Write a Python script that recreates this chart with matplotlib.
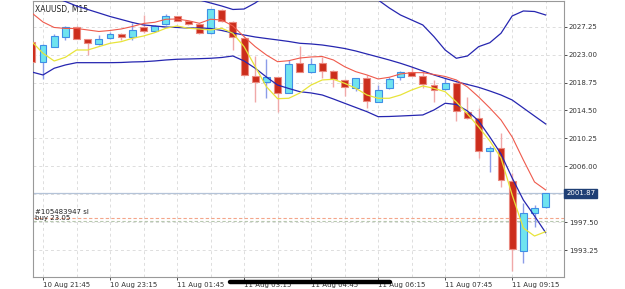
import numpy as np
import matplotlib
matplotlib.use("Agg")
import matplotlib.pyplot as plt
from matplotlib.patches import Rectangle
from matplotlib.lines import Line2D

# XAUUSD M15 candles, first one (index -1) is cut by the left edge
opens = [2024.97, 2021.83, 2024.21, 2025.73, 2027.25, 2025.33, 2024.66, 2025.48, 2026.09, 2025.73,
         2027.16, 2026.55, 2027.62, 2028.88, 2028.07, 2027.66, 2026.25, 2029.79, 2027.97, 2025.58,
         2019.74, 2018.78, 2019.55, 2017.20, 2021.68, 2020.31, 2021.68, 2020.50, 2019.14, 2017.87,
         2019.39, 2015.83, 2017.87, 2019.64, 2020.31, 2019.74, 2018.37, 2017.72, 2018.72, 2014.31,
         2013.30, 2008.33, 2008.74, 2003.80, 1993.10, 1998.84, 1999.75]
highs = [2025.22, 2024.61, 2026.14, 2027.36, 2027.31, 2025.38, 2025.99, 2026.44, 2026.29, 2027.86,
         2029.03, 2027.51, 2029.14, 2028.95, 2028.12, 2027.74, 2029.95, 2029.87, 2028.04, 2025.68,
         2022.79, 2022.33, 2019.59, 2022.18, 2024.31, 2022.48, 2022.68, 2020.66, 2019.29, 2019.44,
         2019.90, 2018.37, 2019.64, 2020.55, 2021.16, 2020.35, 2019.14, 2019.39, 2018.83, 2016.59,
         2014.83, 2009.09, 2011.11, 2004.93, 2000.36, 2000.10, 2001.87]
lows = [2021.72, 2019.29, 2024.16, 2025.23, 2025.30, 2022.94, 2024.46, 2025.38, 2025.23, 2025.23,
        2026.29, 2026.44, 2027.51, 2028.12, 2027.51, 2026.14, 2026.14, 2027.97, 2023.70, 2019.74,
        2015.83, 2016.40, 2014.26, 2017.16, 2020.35, 2020.20, 2019.44, 2018.11, 2016.70, 2017.51,
        2014.83, 2015.79, 2017.76, 2019.14, 2019.74, 2017.92, 2015.83, 2017.61, 2012.89, 2013.19,
        2007.21, 2005.08, 2002.89, 1990.06, 1991.23, 1996.80, 1999.60]
closes = [2021.88, 2024.46, 2025.83, 2027.16, 2025.33, 2024.72, 2025.38, 2026.14, 2025.68, 2026.75,
          2026.55, 2027.36, 2028.92, 2028.16, 2027.66, 2026.25, 2029.90, 2028.12, 2025.64, 2019.90,
          2018.88, 2019.55, 2017.20, 2021.53, 2020.40, 2021.57, 2020.55, 2019.29, 2018.11, 2019.39,
          2015.98, 2017.61, 2019.24, 2020.31, 2019.79, 2018.48, 2017.61, 2018.63, 2014.42, 2013.30,
          2008.33, 2008.74, 2003.91, 1993.36, 1998.84, 1999.60, 2001.87]

# moving averages and bollinger bands
ma_red = [2029.34, 2027.96, 2027.13, 2026.98, 2026.98, 2026.75, 2026.52, 2026.67, 2026.90, 2027.28,
          2027.74, 2027.92, 2028.38, 2028.42, 2028.16, 2027.77, 2028.38, 2028.27, 2027.36, 2025.73,
          2024.21, 2022.94, 2021.92, 2022.07, 2022.48, 2022.64, 2022.71, 2022.18, 2021.16, 2020.40,
          2019.90, 2019.29, 2019.55, 2020.05, 2020.25, 2020.25, 2019.97, 2019.67, 2019.14, 2018.07,
          2016.55, 2014.87, 2013.05, 2010.46, 2006.96, 2003.61, 2002.39]
ma_yellow = [2024.97, 2023.20, 2022.03, 2022.59, 2023.70, 2023.70, 2024.21, 2024.72, 2024.97, 2025.48,
             2025.83, 2026.34, 2027.01, 2027.36, 2027.01, 2026.90, 2026.75, 2027.01, 2026.25, 2024.21,
             2021.16, 2018.11, 2016.29, 2016.35, 2017.16, 2018.37, 2019.14, 2019.24, 2018.63, 2017.87,
             2016.85, 2016.35, 2016.35, 2016.85, 2017.61, 2018.22, 2017.87, 2017.35, 2015.79, 2013.96,
             2011.98, 2009.85, 2007.26, 2001.63, 1996.60, 1995.38, 1996.04]
bb_mid = [2032.84, 2032.23, 2031.70, 2031.09, 2030.40, 2029.87, 2029.34, 2028.80, 2028.35, 2027.89,
          2027.51, 2027.36, 2027.20, 2027.13, 2027.05, 2027.05, 2026.98, 2026.67, 2026.29, 2025.99,
          2025.68, 2025.45, 2025.23, 2025.00, 2024.72, 2024.62, 2024.46, 2024.21, 2023.93, 2023.55,
          2023.09, 2022.64, 2022.18, 2021.68, 2021.12, 2020.51, 2019.90, 2019.37, 2018.88, 2018.45,
          2018.02, 2017.46, 2016.85, 2016.09, 2014.87, 2013.65, 2012.44]
bb_low = [2020.35, 2019.90, 2020.92, 2021.42, 2021.77, 2021.77, 2021.77, 2021.77, 2021.80, 2021.88,
          2021.92, 2022.03, 2022.18, 2022.29, 2022.33, 2022.38, 2022.44, 2022.56, 2022.79, 2022.03,
          2020.92, 2019.59, 2018.37, 2017.84, 2017.35, 2017.16, 2016.85, 2016.24, 2015.59, 2014.95,
          2014.31, 2013.55, 2013.58, 2013.65, 2013.73, 2013.81, 2014.57, 2015.59, 2015.41, 2014.42,
          2012.89, 2010.46, 2007.87, 2004.22, 2000.87, 1998.43, 1995.89]
bb_up = [2045.32, 2044.56, 2042.43, 2040.75, 2039.08, 2038.01, 2036.95, 2035.88, 2034.82, 2033.90,
         2033.14, 2032.69, 2032.23, 2031.92, 2031.77, 2031.32, 2030.86, 2030.40, 2029.87, 2029.94,
         2030.86, 2032.08, 2032.08, 2032.15, 2032.08, 2032.08, 2032.08, 2032.17, 2032.23, 2032.15,
         2031.88, 2031.32, 2030.10, 2029.03, 2028.27, 2027.51, 2025.73, 2023.70, 2022.44, 2022.79,
         2024.21, 2024.81, 2026.25, 2028.88, 2029.64, 2029.56, 2029.03]

price_now = 2001.87
sl_level = 1998.08
buy_level = 1997.67

y_ticks = [1993.25, 1997.50, 2001.75, 2006.00, 2010.25, 2014.50, 2018.75, 2023.00, 2027.25]
x_labels = ["10 Aug 21:45", "10 Aug 23:15", "11 Aug 01:45", "11 Aug 03:15",
            "11 Aug 04:45", "11 Aug 06:15", "11 Aug 07:45", "11 Aug 09:15"]

x = np.arange(len(opens)) - 1

fig = plt.figure(figsize=(6.25, 2.89), dpi=100)
ax = fig.add_axes([33/625, 12/289, 531/625, 276/289])

ax.set_xlim(-0.895, 46.64)
ax.set_ylim(1989.14, 2031.16)

# grid
for v in y_ticks:
    ax.axhline(v, color="#dddddd", lw=0.7, ls=(0, (3, 3)), zorder=0)
for g in range(0, 46, 3):
    ax.axvline(g, color="#dddddd", lw=0.7, ls=(0, (3, 3)), zorder=0)

# candles
w = 0.62
for xi, o, h, l, c in zip(x, opens, highs, lows, closes):
    if c >= o:
        body, edge, wick = "#6fe3ef", "#3f8fe6", "#8c9ce8"
    else:
        body, edge, wick = "#cc2d1c", "#ea8a80", "#f0a8a8"
    ax.vlines(xi, l, h, color=wick, lw=1.0, zorder=2)
    bottom = min(o, c)
    hgt = max(abs(c - o), 0.08)
    ax.add_patch(Rectangle((xi - w/2, bottom), w, hgt, facecolor=body,
                           edgecolor=edge, lw=0.8, zorder=3))

# indicators
ax.plot(x, bb_up, color="#2626b0", lw=0.9, zorder=4)
ax.plot(x, bb_mid, color="#2626b0", lw=0.9, zorder=4)
ax.plot(x, bb_low, color="#2626b0", lw=0.9, zorder=4)
ax.plot(x, ma_red, color="#ef5a4c", lw=0.8, zorder=4)
ax.plot(x, ma_yellow, color="#e8e43a", lw=0.9, zorder=4)

# price / order lines
ax.axhline(price_now, color="#b4c3d8", lw=0.9, zorder=1)
ax.axhline(sl_level, color="#f4a58a", lw=0.8, ls=(0, (3, 2)), zorder=1)
ax.axhline(buy_level, color="#b8c8b0", lw=0.8, ls=(0, (3, 2)), zorder=1)
ax.text(0.003, sl_level + 0.55, "#105483947 sl", transform=ax.get_yaxis_transform(),
        fontsize=5, color="#222222", va="bottom", ha="left")
ax.text(0.003, sl_level - 0.35, "buy 23.05", transform=ax.get_yaxis_transform(),
        fontsize=5, color="#222222", va="bottom", ha="left")

ax.text(0.003, 0.985, "XAUUSD, M15", transform=ax.transAxes, fontsize=5.5,
        color="#222222", va="top", ha="left")

# axes styling
ax.yaxis.tick_right()
ax.set_yticks(y_ticks)
ax.set_yticklabels(["%.2f" % v if v != 2001.75 else "" for v in y_ticks])
ax.set_xticks(range(0, 43, 6))
ax.set_xticklabels(x_labels, ha="left")
ax.tick_params(axis="both", labelsize=5, colors="#333333", length=2, width=0.6, pad=1.5)
for s in ax.spines.values():
    s.set_color("#999999")
    s.set_linewidth(0.8)

ax.text(1.004, price_now, "%.2f" % price_now, transform=ax.get_yaxis_transform(),
        fontsize=5, color="white", va="center", ha="left", zorder=10,
        bbox=dict(boxstyle="square,pad=0.25", fc="#1f3f75", ec="#1f3f75"))

# redaction bar over two time labels
fig.add_artist(Line2D([230/625, 390/625], [1 - 282/289, 1 - 282/289],
                      color="black", lw=3.2, solid_capstyle="round"))

fig.savefig("out.png", dpi=100, facecolor="white")
